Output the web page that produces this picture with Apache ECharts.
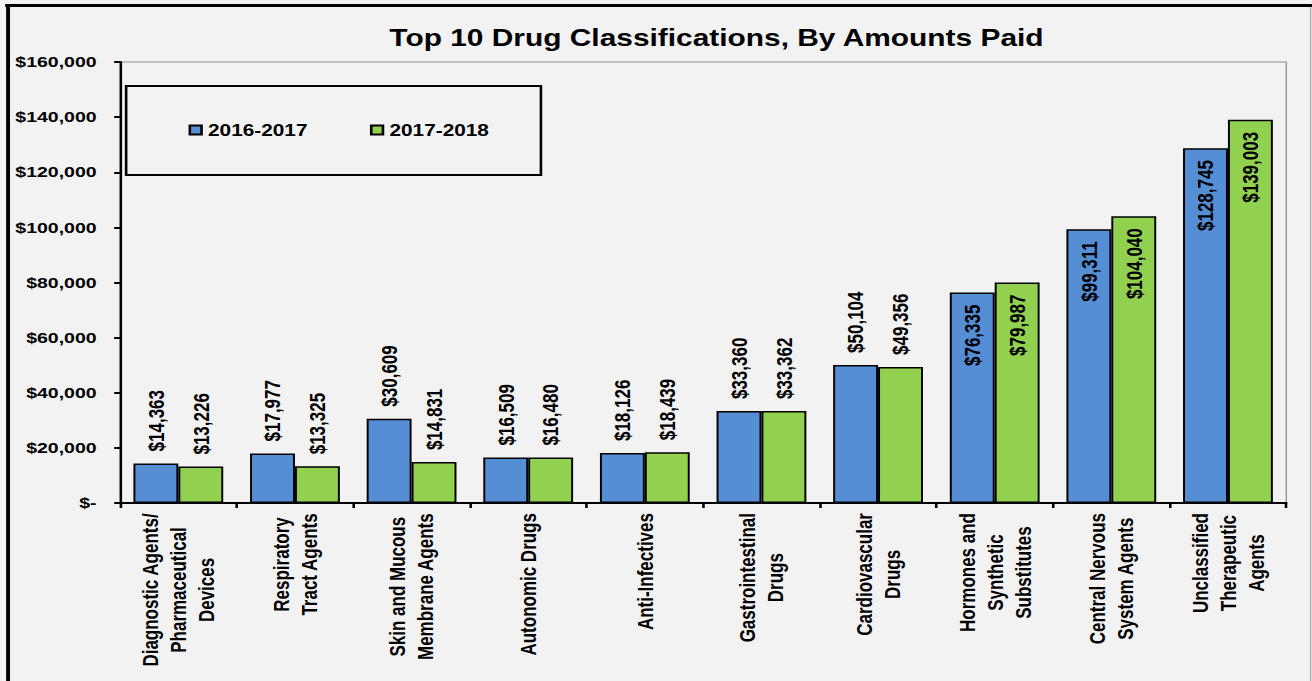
<!DOCTYPE html>
<html>
<head>
<meta charset="utf-8">
<script src="https://cdn.jsdelivr.net/npm/echarts@6/dist/echarts.min.js"></script>
<style>
html,body{margin:0;padding:0;background:#f2f2f2;overflow:hidden;}
#wrap{width:1312px;height:681px;overflow:hidden;position:relative;}
#chart{width:1009px;height:681px;transform:scaleX(1.3003);transform-origin:0 0;}
</style>
</head>
<body>
<div id="wrap"><div id="chart"></div></div>
<script>
const categories = [
  'Diagnostic Agents/\nPharmaceutical\nDevices',
  'Respiratory\nTract Agents',
  'Skin and Mucous\nMembrane Agents',
  'Autonomic Drugs',
  'Anti-Infectives',
  'Gastrointestinal\nDrugs',
  'Cardiovascular\nDrugs',
  'Hormones and\nSynthetic\nSubstitutes',
  'Central Nervous\nSystem Agents',
  'Unclassified\nTherapeutic\nAgents'
];
const seriesNames = ['2016-2017', '2017-2018'];
const values2016 = [14363, 17977, 30609, 16509, 18126, 33360, 50104, 76335, 99311, 128745];
const values2017 = [13226, 13325, 14831, 16480, 18439, 33362, 49356, 79987, 104040, 139003];
const yTickLabels = ['$-', '$20,000', '$40,000', '$60,000', '$80,000', '$100,000', '$120,000', '$140,000', '$160,000'];
const titleText = 'Top 10 Drug Classifications, By Amounts Paid';

const FONT = '"Liberation Sans", Arial, sans-serif';

function labelFor(i) {
  if (i >= 7) {
    return { position: 'insideTop', rotate: 90, align: 'right', verticalAlign: 'middle', distance: 12 };
  }
  return { position: 'top', rotate: 90, align: 'left', verticalAlign: 'middle', distance: 12 };
}
function buildData(arr) {
  return arr.map((v, i) => ({ value: v, label: labelFor(i) }));
}
const money = v => '$' + Number(v).toLocaleString('en-US');

const chart = echarts.init(document.getElementById('chart'), null, { renderer: 'svg' });
chart.setOption({
  backgroundColor: '#f2f2f2',
  animation: false,
  title: {
    text: titleText,
    left: 551, top: 27, padding: 0, textAlign: 'center',
    textStyle: { fontFamily: FONT, fontSize: 23, fontWeight: 'bold', color: '#000' }
  },
  legend: {
    left: 145, top: 122, padding: 0,
    itemWidth: 9, itemHeight: 9, itemGap: 48, icon: 'rect',
    textStyle: { fontFamily: FONT, fontSize: 16, fontWeight: 'bold', color: '#000' },
    data: seriesNames
  },
  graphic: [
    { type: 'rect', z: 1, shape: { x: 97, y: 86, width: 319, height: 89 },
      style: { fill: 'none', stroke: '#000', lineWidth: 2 } },
    { type: 'line', z: 100, shape: { x1: 1007.9, y1: 7, x2: 1007.9, y2: 690 },
      style: { stroke: '#a6a6a6', lineWidth: 1 } },
    { type: 'line', z: 100, shape: { x1: 4, y1: 5.5, x2: 1012, y2: 5.5 },
      style: { stroke: '#000', lineWidth: 3 } },
    { type: 'line', z: 100, shape: { x1: 6.2, y1: 4, x2: 6.2, y2: 690 },
      style: { stroke: '#000', lineWidth: 3 } }
  ],
  grid: {
    left: 92.3, right: 19.8, top: 62, bottom: 178,
    show: true, borderColor: '#8c8c8c', borderWidth: 1, backgroundColor: 'transparent',
    containLabel: false
  },
  xAxis: {
    type: 'category',
    data: categories,
    axisLine: { lineStyle: { color: '#000', width: 2 } },
    axisTick: { show: true, length: 5, lineStyle: { color: '#000', width: 2 } },
    axisLabel: {
      interval: 0, rotate: 90, margin: 10,
      formatter: v => v.split('\n').map(s => '{c|' + s + '}').join('\n'),
      rich: { c: { align: 'center', fontFamily: FONT, fontSize: 17, fontWeight: 'bold', lineHeight: 21.5, color: '#000' } }
    },
    splitLine: { show: false }
  },
  yAxis: {
    type: 'value',
    min: 0, max: 160000, interval: 20000,
    axisLine: { show: true, lineStyle: { color: '#000', width: 1.8 } },
    axisTick: { show: true, length: 4.5, lineStyle: { color: '#000', width: 2 } },
    axisLabel: {
      margin: 18,
      formatter: v => yTickLabels[Math.round(v / 20000)],
      fontFamily: FONT, fontSize: 15, fontWeight: 'bold', color: '#000'
    },
    splitLine: { show: false }
  },
  series: [
    {
      name: seriesNames[0], type: 'bar', data: buildData(values2016),
      barGap: '0%', barCategoryGap: '23%',
      itemStyle: { color: '#558ed5', borderColor: '#000', borderWidth: 1.5 },
      label: { show: true, formatter: p => money(p.value), fontFamily: FONT, fontSize: 17, fontWeight: 'bold', color: '#000' }
    },
    {
      name: seriesNames[1], type: 'bar', data: buildData(values2017),
      barGap: '0%', barCategoryGap: '23%',
      itemStyle: { color: '#92d050', borderColor: '#000', borderWidth: 1.5 },
      label: { show: true, formatter: p => money(p.value), fontFamily: FONT, fontSize: 17, fontWeight: 'bold', color: '#000' }
    }
  ]
});
</script>
</body>
</html>
